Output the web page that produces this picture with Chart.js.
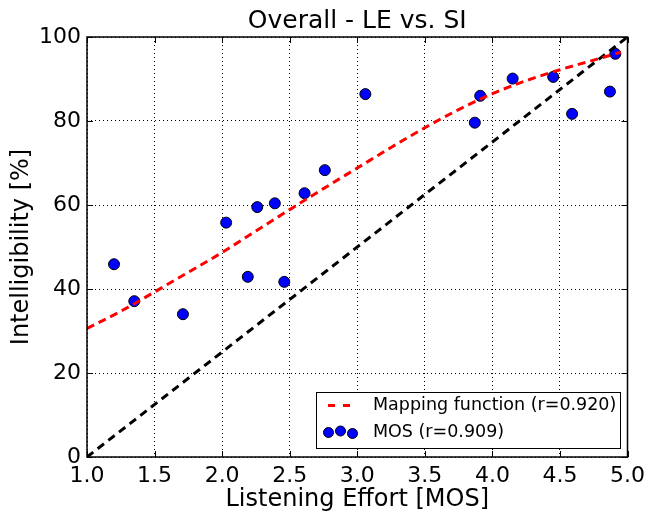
<!DOCTYPE html>
<html>
<head>
<meta charset="utf-8">
<script src="https://cdn.jsdelivr.net/npm/chart.js@4"></script>
<style>
  html, body { margin:0; padding:0; background:#fff; }
  #wrap { width:651px; height:516px; position:relative; }
</style>
</head>
<body>
<div id="wrap"><canvas id="c"></canvas></div>
<script>
// MOS points (listening effort vs. intelligibility)
const mosX = [1.20, 1.35, 1.71, 2.03, 2.19, 2.26, 2.39, 2.46, 2.61, 2.76, 3.06, 3.87, 3.91, 4.15, 4.45, 4.59, 4.87, 4.91];
const mosY = [45.9, 37.1, 34.0, 55.8, 42.9, 59.5, 60.4, 41.7, 62.8, 68.3, 86.4, 79.6, 86.0, 90.1, 90.5, 81.7, 87.0, 96.0];

// mapping function
const mapX = [1.00, 1.25, 1.50, 1.75, 2.00, 2.25, 2.50, 2.75, 3.00, 3.25, 3.50, 3.75, 4.00, 4.25, 4.50, 4.75, 4.95];
const mapY = [30.6, 34.7, 39.3, 44.0, 48.7, 53.8, 58.9, 63.9, 68.8, 73.7, 78.4, 82.7, 86.5, 89.6, 92.2, 94.5, 96.4];

// identity line
const diagX = [1, 5];
const diagY = [0, 100];

const xTicks = [1.0, 1.5, 2.0, 2.5, 3.0, 3.5, 4.0, 4.5, 5.0];
const yTicks = [0, 20, 40, 60, 80, 100];

const FONT = 'DejaVu Sans';
const pts = (xs, ys) => xs.map((x, i) => ({ x, y: ys[i] }));

// frame + inward ticks on all four sides (matplotlib classic look)
const frame = {
  id: 'frame',
  afterDatasetsDraw(chart){
    const { ctx, chartArea: a, scales: { x, y } } = chart;
    ctx.save();
    ctx.strokeStyle = '#000';
    ctx.lineWidth = 1;
    ctx.setLineDash([]);
    ctx.beginPath();
    for (const t of xTicks){
      const px = Math.round(x.getPixelForValue(t)) + 0.5;
      ctx.moveTo(px, a.bottom); ctx.lineTo(px, a.bottom - 6);
      ctx.moveTo(px, a.top); ctx.lineTo(px, a.top + 6);
    }
    for (const t of yTicks){
      const py = Math.round(y.getPixelForValue(t)) + 0.5;
      ctx.moveTo(a.left, py); ctx.lineTo(a.left + 6, py);
      ctx.moveTo(a.right, py); ctx.lineTo(a.right - 6, py);
    }
    ctx.stroke();
    ctx.lineWidth = 1.5;
    ctx.strokeRect(a.left, a.top, a.right - a.left, a.bottom - a.top);
    ctx.restore();
  }
};

// legend box, lower right, with three scatter markers like matplotlib
const legendBox = {
  id: 'legendBox',
  afterDraw(chart){
    const { ctx } = chart;
    const ds = chart.data.datasets;
    ctx.save();
    ctx.fillStyle = '#fff';
    ctx.strokeStyle = '#000';
    ctx.lineWidth = 1;
    ctx.fillRect(316, 392.5, 304, 56);
    ctx.strokeRect(316.5, 392.5, 304, 56);

    ctx.strokeStyle = ds[0].borderColor;
    ctx.lineWidth = 3;
    ctx.setLineDash([7, 8]);
    ctx.beginPath(); ctx.moveTo(328, 405.5); ctx.lineTo(351, 405.5); ctx.stroke();
    ctx.setLineDash([]);

    ctx.fillStyle = ds[2].backgroundColor;
    ctx.strokeStyle = '#000';
    ctx.lineWidth = 1;
    for (const [cx, cy] of [[328.5, 432.5], [340.5, 431], [352.5, 433.5]]){
      ctx.beginPath(); ctx.arc(cx, cy, 5, 0, Math.PI * 2); ctx.fill(); ctx.stroke();
    }

    ctx.fillStyle = '#000';
    ctx.font = '17.5px "' + FONT + '"';
    ctx.textBaseline = 'middle';
    ctx.fillText(ds[0].label, 373, 405.5);
    ctx.fillText(ds[2].label, 373, 432);
    ctx.restore();
  }
};

new Chart(document.getElementById('c'), {
  type: 'scatter',
  data: {
    datasets: [
      { type:'line', label:'Mapping function (r=0.920)', data: pts(mapX, mapY),
        borderColor:'#ff0000', borderWidth:3, borderDash:[8,5], pointRadius:0,
        cubicInterpolationMode:'monotone', fill:false },
      { type:'line', label:'identity', data: pts(diagX, diagY),
        borderColor:'#000000', borderWidth:3, borderDash:[8,5.5], pointRadius:0, fill:false },
      { label:'MOS (r=0.909)', data: pts(mosX, mosY),
        backgroundColor:'#0000ff', borderColor:'#000', borderWidth:1, pointRadius:5.5, pointHoverRadius:5.5 }
    ]
  },
  options: {
    responsive: true,
    maintainAspectRatio: false,
    animation: false,
    devicePixelRatio: 1,
    layout: { padding: { left:0, right:22, top:0, bottom:0 } },
    plugins: {
      legend: { display:false },
      tooltip: { enabled:false },
      title: {
        display: true, fullSize: false, text: 'Overall - LE vs. SI', color:'#000',
        font: { family: FONT, size: 25, weight: 'normal', lineHeight: 1 },
        padding: { top: 9.2, bottom: 2.8 }
      }
    },
    scales: {
      x: {
        type:'linear', min:1, max:5,
        afterBuildTicks: s => { s.ticks = xTicks.map(v => ({ value: v })); },
        afterFit: s => { s.height = 59; },
        ticks: { color:'#000', font:{ family: FONT, size: 22 }, padding: 6, maxRotation:0,
                 callback: v => v.toFixed(1) },
        grid: { color:'#000', lineWidth:1, drawTicks:false },
        border: { display:false, dash:[1,3] },
        title: { display:true, text:'Listening Effort [MOS]', color:'#000',
                 font:{ family: FONT, size: 24 }, padding:{ top:0, bottom:1.6 } }
      },
      y: {
        type:'linear', min:0, max:100,
        afterBuildTicks: s => { s.ticks = yTicks.map(v => ({ value: v })); },
        afterFit: s => { s.width = 87; },
        ticks: { color:'#000', font:{ family: FONT, size: 22 }, padding: 6 },
        grid: { color:'#000', lineWidth:1, drawTicks:false },
        border: { display:false, dash:[1,3] },
        title: { display:true, text:'Intelligibility [%]', color:'#000',
                 font:{ family: FONT, size: 24 }, padding:{ top:7, bottom:0 } }
      }
    }
  },
  plugins: [frame, legendBox]
});
</script>
</body>
</html>
